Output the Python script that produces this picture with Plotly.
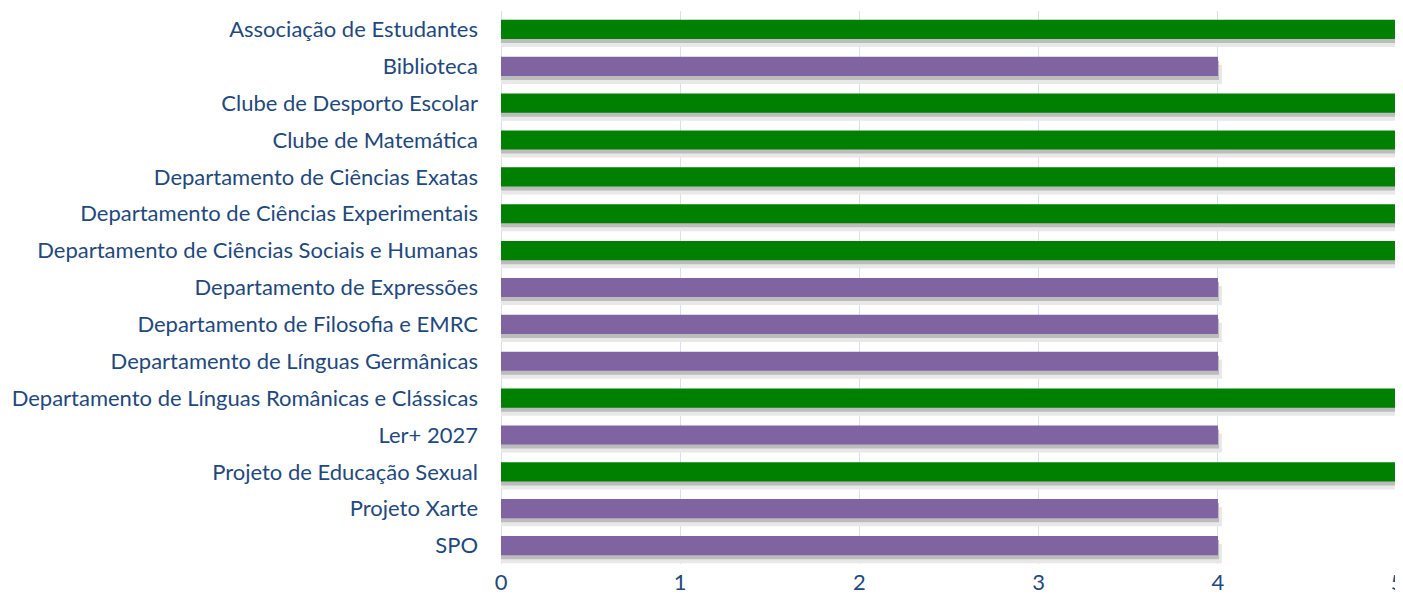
import plotly.graph_objects as go

categories = [
    "Associação de Estudantes",
    "Biblioteca",
    "Clube de Desporto Escolar",
    "Clube de Matemática",
    "Departamento de Ciências Exatas",
    "Departamento de Ciências Experimentais",
    "Departamento de Ciências Sociais e Humanas",
    "Departamento de Expressões",
    "Departamento de Filosofia e EMRC",
    "Departamento de Línguas Germânicas",
    "Departamento de Línguas Românicas e Clássicas",
    "Ler+ 2027",
    "Projeto de Educação Sexual",
    "Projeto Xarte",
    "SPO",
]
values = [5, 4, 5, 5, 5, 5, 5, 4, 4, 4, 5, 4, 5, 4, 4]

GREEN = "#008000"
PURPLE = "#8064a2"
TEXT = "#1f497d"

colors = [GREEN if v >= 5 else PURPLE for v in values]

bar_w = 0.52
step_px = 36.86  # pixels per category

fig = go.Figure()

# soft drop shadow under each bar (two layers)
fig.add_trace(go.Bar(
    y=categories, x=[v + 0.022 for v in values], orientation="h",
    width=bar_w, offset=-bar_w / 2 + 8 / step_px,
    marker=dict(color="#e8e8e8", line=dict(width=0)),
    hoverinfo="skip", showlegend=False))
fig.add_trace(go.Bar(
    y=categories, x=[v + 0.006 for v in values], orientation="h",
    width=bar_w, offset=-bar_w / 2 + 4 / step_px,
    marker=dict(color="#bcbcbc", line=dict(width=0)),
    hoverinfo="skip", showlegend=False))
fig.add_trace(go.Bar(
    y=categories, x=values, orientation="h",
    width=bar_w, offset=-bar_w / 2,
    marker=dict(color=colors, line=dict(width=0)),
    showlegend=False))

# page body adds an 8px margin, so the figure is sized to fit inside it
fig.update_layout(
    width=1395, height=588,
    barmode="overlay",
    plot_bgcolor="white", paper_bgcolor="white",
    margin=dict(l=493, r=4, t=3, b=32),
    font=dict(family="Lato, 'Open Sans', sans-serif", size=22, color=TEXT),
)
fig.update_xaxes(
    range=[0, 5.01], tickvals=[0, 1, 2, 3, 4, 5],
    showgrid=True, gridcolor="#d6e1ef", gridwidth=1,
    zeroline=True, zerolinecolor="#d6e1ef", zerolinewidth=1,
    showline=False, tickfont=dict(size=22, color=TEXT),
    ticklabelstandoff=3, ticklabeloverflow="allow",
    automargin=False, fixedrange=True,
)
fig.update_yaxes(
    range=[14.5, -0.5], showgrid=False, showline=False, zeroline=False,
    tickfont=dict(size=22, color=TEXT), ticklabelstandoff=22,
    automargin=False,
)

fig.write_html("out.html")
